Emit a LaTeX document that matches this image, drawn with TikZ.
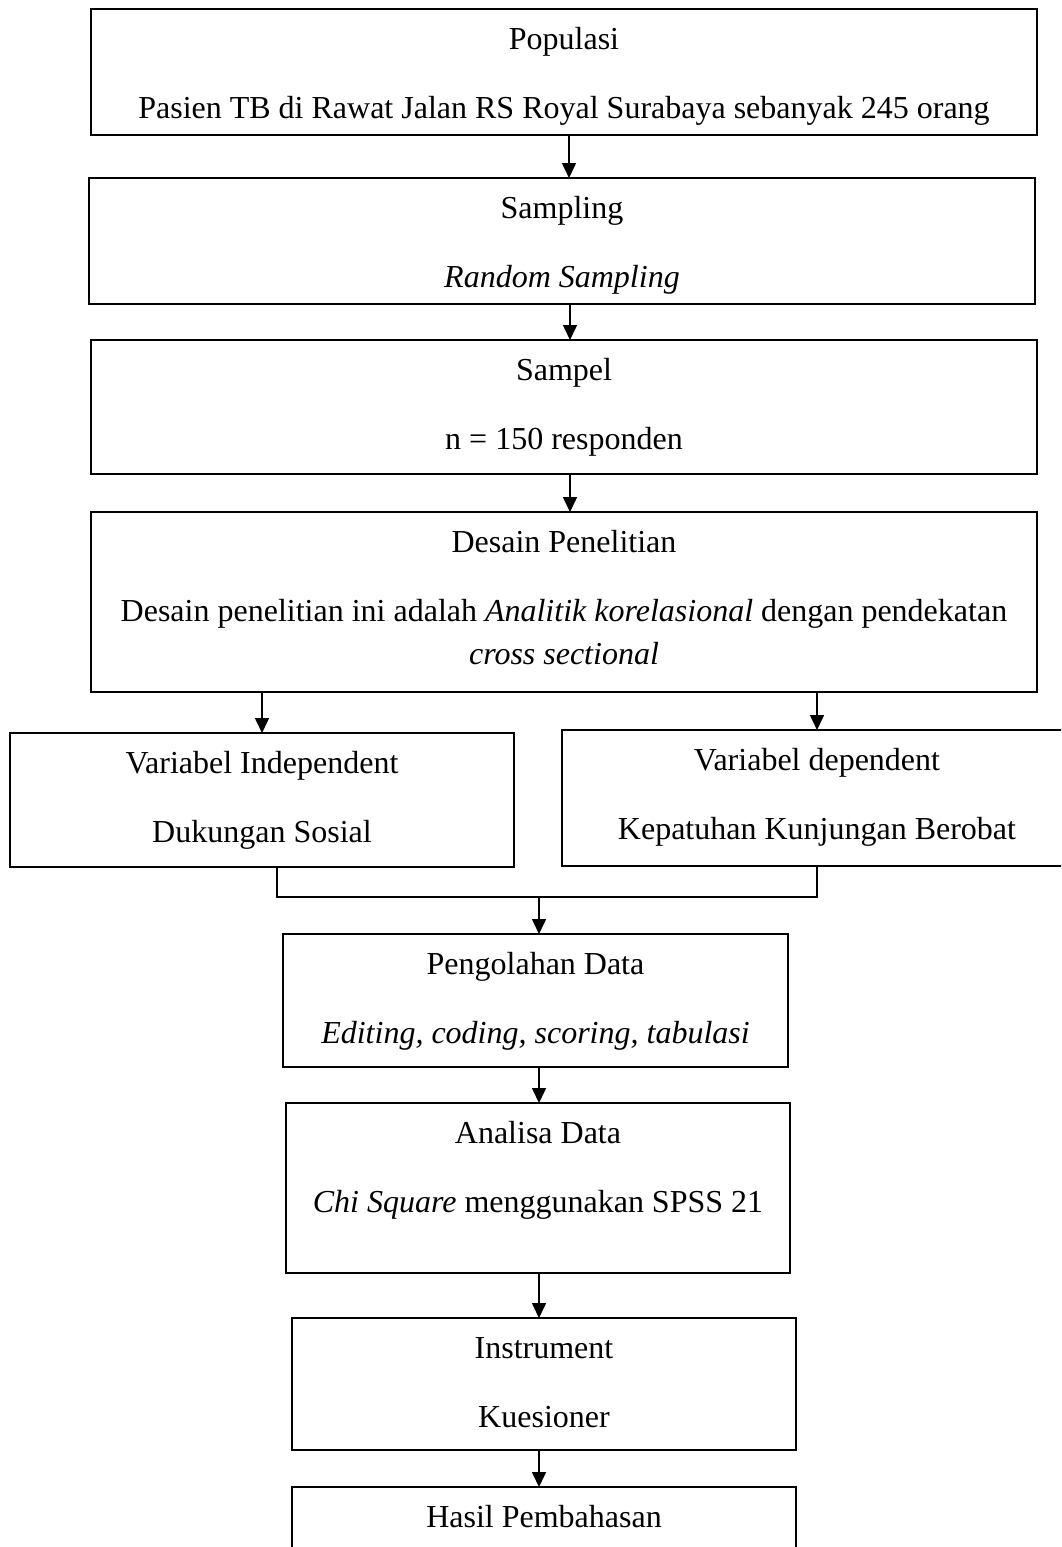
\documentclass[tikz,border=0pt]{standalone}
\usepackage{fontspec}
\setmainfont{Liberation Serif}
\usetikzlibrary{arrows.meta,calc}
\newcommand{\boxcontent}[3]{\parbox[c][#1pt][t]{#2pt}{\centering\rule{0pt}{40pt}#3}}
\tikzset{
  box/.style={draw, line width=1.6pt, rectangle, inner sep=0pt, outer sep=0pt,
    font=\fontsize{32}{43}\selectfont},
  arr/.style={-{Triangle[length=15pt,width=14pt]}, line width=1.6pt},
  link/.style={line width=1.6pt}
}
\begin{document}
\begin{tikzpicture}[x=1pt,y=-1pt]
\useasboundingbox (0,0) rectangle (1061,1547);
\fill[white] (0,0) rectangle (1061,1547);
\clip (0,0) rectangle (1061,1547);

\node[box] (b1) at (564,72) {\boxcontent{126}{946}{Populasi\\[26pt]Pasien TB di Rawat Jalan RS Royal Surabaya sebanyak 245 orang}};
\node[box] (b2) at (562,241) {\boxcontent{126}{946}{Sampling\\[26pt]\textit{Random Sampling}}};
\node[box] (b3) at (564,407) {\boxcontent{134}{946}{Sampel\\[26pt]n = 150 responden}};
\node[box] (b4) at (564,602) {\boxcontent{180}{946}{Desain Penelitian\\[26pt]Desain penelitian ini adalah \textit{Analitik korelasional} dengan pendekatan\\\textit{cross sectional}}};
\node[box] (bL) at (262,800) {\boxcontent{134}{504}{Variabel Independent\\[26pt]Dukungan Sosial}};
\node[box] (bR) at (817,798) {\boxcontent{136}{510}{Variabel dependent\\[26pt]Kepatuhan Kunjungan Berobat}};
\node[box] (b5) at (535.5,1000.5) {\boxcontent{133}{505}{Pengolahan Data\\[26pt]\textit{Editing, coding, scoring, tabulasi}}};
\node[box] (b6) at (538,1188) {\boxcontent{170}{504}{Analisa Data\\[26pt]\textit{Chi Square} menggunakan SPSS 21}};
\node[box] (b7) at (544,1384) {\boxcontent{132}{504}{Instrument\\[26pt]Kuesioner}};
\node[box] (b8) at (544,1553) {\boxcontent{132}{504}{Hasil Pembahasan}};

\draw[arr] ([xshift=5pt]b1.south) -- ([xshift=5pt]b1.south |- b2.north);
\draw[arr] ([xshift=8pt]b2.south) -- ([xshift=8pt]b2.south |- b3.north);
\draw[arr] ([xshift=6pt]b3.south) -- ([xshift=6pt]b3.south |- b4.north);
\draw[arr] (bL.north |- b4.south) -- (bL.north);
\draw[arr] (bR.north |- b4.south) -- (bR.north);
\coordinate (j) at (539,897);
\draw[link] ([xshift=15pt]bL.south) |- (j) -| (bR.south);
\draw[arr] (j) -- (j |- b5.north);
\draw[arr] (b5.south -| j) -- (b6.north -| j);
\draw[arr] (b6.south -| j) -- (b7.north -| j);
\draw[arr] (b7.south -| j) -- (b8.north -| j);
\end{tikzpicture}
\end{document}
